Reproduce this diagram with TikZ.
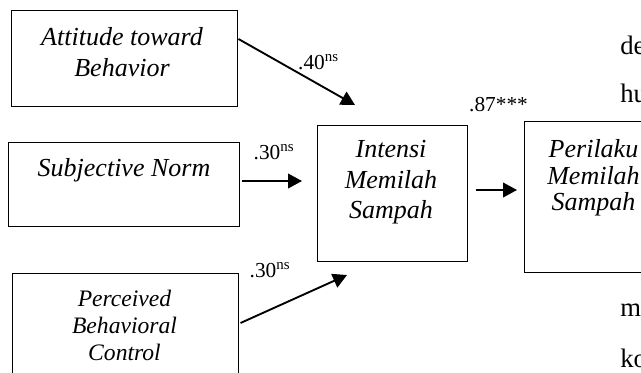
\documentclass[tikz,border=0pt]{standalone}
\usepackage{fontspec}
\setmainfont{Liberation Serif}
\usetikzlibrary{arrows.meta}
\usetikzlibrary{fit}
\usetikzlibrary{calc}

\tikzset{
  x=0.75pt, y=-0.75pt,
  box/.style={draw, line width=0.75pt, fill=white, inner sep=0pt},
  boxtext/.style={align=center, inner sep=0pt, font=\fontsize{19.5}{23.25}\selectfont\itshape},
  link/.style={-{Triangle[length=10.5pt,width=11pt]}, line width=1.4pt},
  coef/.style={inner sep=0pt, font=\fontsize{16}{19}\selectfont},
  pagetext/.style={anchor=west, inner sep=0pt, font=\fontsize{20}{24}\selectfont}
}

\begin{document}
\begin{tikzpicture}
\useasboundingbox (0,0) rectangle (641,372);
\clip (0,0) rectangle (641,372);

% words of the page behind the figure
\node[pagetext] (de) at (620,45) {de};
\node[pagetext] (hu) at (620,93) {hu};
\node[pagetext] (m) at (620,310) {m};
\node[pagetext] (ko) at (620,358) {ko};

% boxes
\node[box, fit={(11,10) (237,106)}] (att) {};
\node[box, fit={(8,142) (239,226)}] (sub) {};
\node[box, fit={(12,273) (238,377)}] (pbc) {};
\node[box, fit={(317,125) (467,261)}] (int) {};
\node[box, fit={(524,121) (664,272)}] (per) {};

\node[boxtext] (attT) at (122,52.5) {Attitude toward\\Behavior};
\node[boxtext] (subT) at (124,170) {Subjective Norm};
\node[boxtext, font=\fontsize{17.7}{20.25}\selectfont\itshape] (pbcT) at (124.5,325) {Perceived\\Behavioral\\Control};
\node[boxtext, font=\fontsize{19.5}{22.9}\selectfont\itshape] (intT) at (391,182.5) {Intensi\\Memilah\\Sampah};
\node[boxtext, font=\fontsize{19.5}{19.9}\selectfont\itshape] (perT) at (593.5,178) {Perilaku\\Memilah\\Sampah};

% arrow tips
\coordinate (attTip) at (355,105);
\coordinate (subTip) at (302,181);
\coordinate (pbcTip) at (347,275);
\coordinate (intTip) at (517,190);

\draw[link] ($(att.east)+(1,-19)$) -- (attTip);
\draw[link] ($(sub.east)+(2,-3)$) -- (subTip);
\draw[link] ($(pbc.east)+(2,-2)$) -- (pbcTip);
\draw[link] ($(int.east)+(8,-3)$) -- (intTip);

% coefficients
\node[coef] (c1) at (318.5,62) {.40\textsuperscript{ns}};
\node[coef] (c2) at (274,152) {.30\textsuperscript{ns}};
\node[coef] (c3) at (270,270) {.30\textsuperscript{ns}};
\node[coef] (c4) at (498.5,105) {.87***};
\end{tikzpicture}
\end{document}
